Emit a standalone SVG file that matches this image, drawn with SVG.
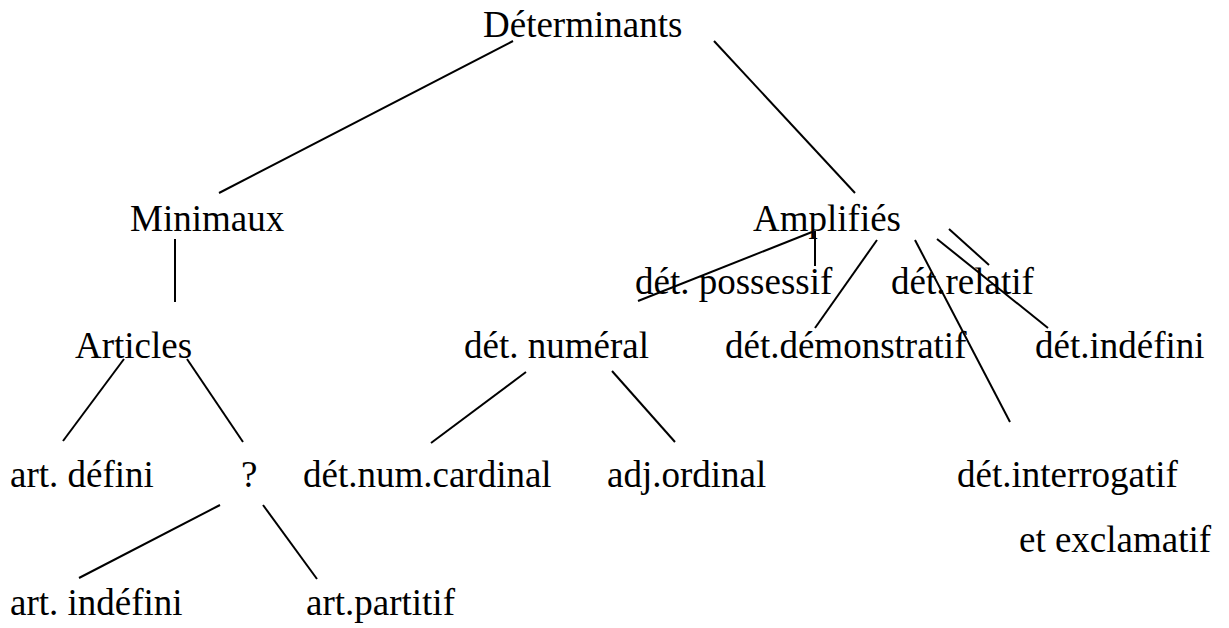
<svg xmlns="http://www.w3.org/2000/svg" width="1229" height="628" viewBox="0 0 1229 628">
<rect width="1229" height="628" fill="#fff"/>
<g id="connectors" stroke="#000" stroke-width="2">
<line x1="513" y1="41" x2="219" y2="193"/>
<line x1="175" y1="239" x2="175" y2="302"/>
<line x1="714" y1="41" x2="855" y2="193"/>
<line x1="812" y1="232" x2="638" y2="301"/>
<line x1="815" y1="231" x2="815" y2="266"/>
<line x1="877" y1="240" x2="815" y2="328"/>
<line x1="915" y1="240" x2="1010" y2="422"/>
<line x1="937" y1="239" x2="1048" y2="328"/>
<line x1="949" y1="229" x2="989" y2="265"/>
<line x1="124" y1="359" x2="63" y2="441"/>
<line x1="187" y1="359" x2="243" y2="442"/>
<line x1="526" y1="372" x2="431" y2="443"/>
<line x1="612" y1="371" x2="675" y2="442"/>
<line x1="220" y1="505" x2="79" y2="578"/>
<line x1="263" y1="505" x2="317" y2="579"/>
</g>
<g id="nodes" font-family="Liberation Serif" font-size="37" fill="#000">
<g id="n-determinants"><text x="483" y="37">Déterminants</text></g>
<g id="n-minimaux"><text x="130" y="231">Minimaux</text></g>
<g id="n-amplifies"><text x="753" y="231">Amplifiés</text></g>
<g id="n-possessif"><text x="635" y="294">dét. possessif</text></g>
<g id="n-relatif"><text x="891" y="294">dét.relatif</text></g>
<g id="n-articles"><text x="75" y="358">Articles</text></g>
<g id="n-numeral"><text x="464" y="358">dét. numéral</text></g>
<g id="n-demonstratif"><text x="725" y="358">dét.démonstratif</text></g>
<g id="n-indefini-det"><text x="1035" y="358">dét.indéfini</text></g>
<g id="n-defini"><text x="10" y="487">art. défini</text></g>
<g id="n-question"><text x="241" y="487">?</text></g>
<g id="n-cardinal"><text x="303" y="487">dét.num.cardinal</text></g>
<g id="n-ordinal"><text x="607" y="487">adj.ordinal</text></g>
<g id="n-interrogatif"><text x="957" y="487">dét.interrogatif</text><text x="1019" y="552">et exclamatif</text></g>
<g id="n-art-indefini"><text x="10" y="615">art. indéfini</text></g>
<g id="n-partitif"><text x="306" y="615">art.partitif</text></g>
</g>
</svg>
